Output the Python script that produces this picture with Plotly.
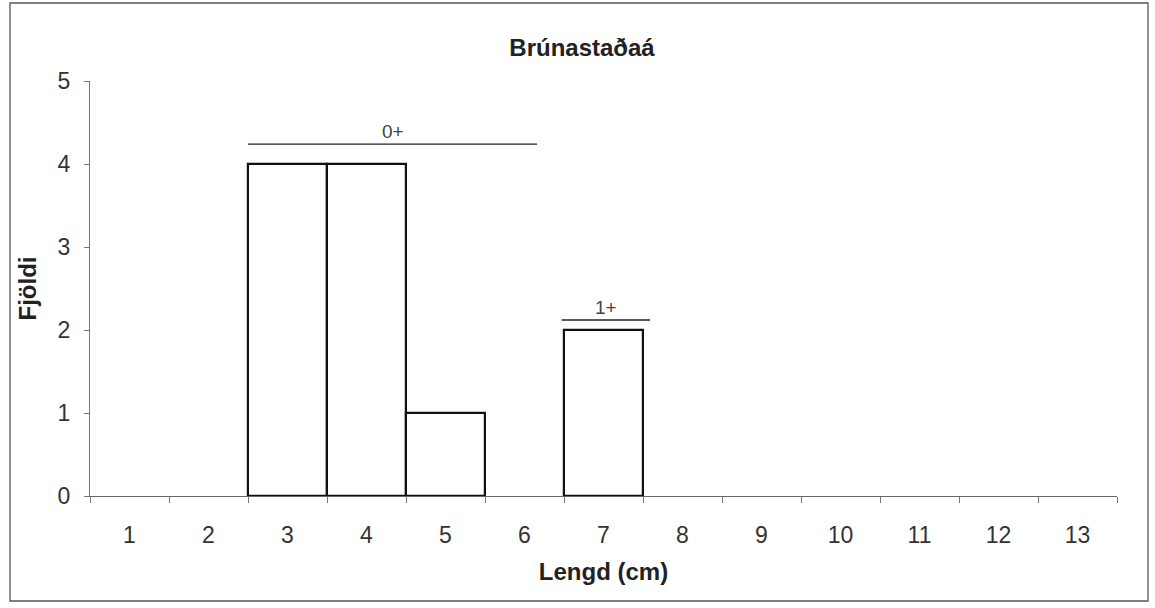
import plotly.graph_objects as go

lengths = list(range(1, 14))
counts = [0, 0, 4, 4, 1, 0, 2, 0, 0, 0, 0, 0, 0]
title = "Brúnastaðaá"
x_title = "Lengd (cm)"
y_title = "Fjöldi"
groups = [
    {"label": "0+", "x0": 2.5, "x1": 6.16, "y": 4.24},
    {"label": "1+", "x0": 6.47, "x1": 7.59, "y": 2.12},
]

W, H = 1155, 608
ml, mr, mt, mb = 90, 38, 81, 112
pw, ph = W - ml - mr, H - mt - mb

fig = go.Figure()
fig.add_trace(go.Bar(
    x=lengths, y=counts, width=1,
    marker=dict(color="white",
                line=dict(color="#111", width=[2.2 if c > 0 else 0 for c in counts])),
    showlegend=False, hoverinfo="x+y",
))

for g in groups:
    fig.add_shape(type="line", xref="x", yref="y", x0=g["x0"], x1=g["x1"],
                  y0=g["y"], y1=g["y"], line=dict(color="#222", width=1.4))
    fig.add_annotation(x=(g["x0"] + g["x1"]) / 2, y=g["y"], text=g["label"],
                       showarrow=False, yanchor="bottom", yshift=0,
                       font=dict(size=19, color="#444"))

# outer frame
fig.add_shape(type="rect", xref="paper", yref="paper",
              x0=(10 - ml) / pw, x1=(1148 - ml) / pw,
              y0=(H - mb - 601) / ph, y1=(H - mb - 3) / ph,
              line=dict(color="#555", width=1.3))

fig.update_layout(
    width=W, height=H,
    margin=dict(l=ml, r=mr, t=mt, b=mb),
    paper_bgcolor="white", plot_bgcolor="white",
    font=dict(family="Liberation Sans, Arial, sans-serif", color="#222"),
    title=dict(text="<b>" + title + "</b>", x=582 / W, xanchor="center",
               y=1 - 48 / H, yanchor="middle", font=dict(size=24, color="#222")),
    bargap=0,
)
fig.update_xaxes(
    range=[0.5, 13.5], tickmode="array", tickvals=lengths,
    ticktext=[str(v) for v in lengths], ticks="",
    minor=dict(tick0=0.5, dtick=1, ticks="outside", ticklen=6, tickcolor="#777"),
    showline=True, linecolor="#666", linewidth=1.3, showgrid=False, zeroline=False,
    tickfont=dict(size=23, color="#333"), ticklabelstandoff=18,
    title=dict(text="<b>" + x_title + "</b>", font=dict(size=24, color="#222"), standoff=16),
)
fig.update_yaxes(
    range=[0, 5], tickvals=[0, 1, 2, 3, 4, 5], ticks="outside", ticklen=5,
    tickcolor="#777", showline=True, linecolor="#777", linewidth=1.3,
    showgrid=False, zeroline=False,
    tickfont=dict(size=23, color="#333"), ticklabelstandoff=9,
    title=dict(text="<b>" + y_title + "</b>", font=dict(size=24, color="#222"), standoff=14),
)

fig.write_html("out.html", config={"displayModeBar": False},
               post_script="document.body.style.margin='0';")
